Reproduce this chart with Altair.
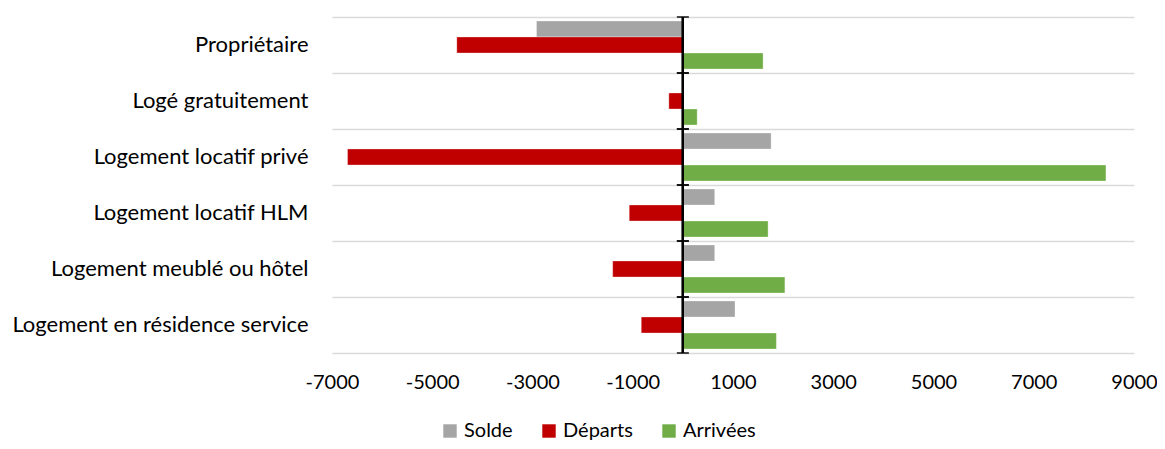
import altair as alt
import pandas as pd

categories = ["Propriétaire", "Logé gratuitement", "Logement locatif privé",
              "Logement locatif HLM", "Logement meublé ou hôtel",
              "Logement en résidence service"]
series = ["Solde", "Départs", "Arrivées"]
solde = [-2920, 5, 1760, 635, 635, 1040]
departs = [-4510, -280, -6690, -1070, -1400, -830]
arrivees = [1600, 285, 8440, 1700, 2035, 1865]
colors = ["#a5a5a5", "#c00000", "#70ad47"]
x_ticks = [-7000, -5000, -3000, -1000, 1000, 3000, 5000, 7000, 9000]

rows = []
for i, c in enumerate(categories):
    for s, vals in zip(series, [solde, departs, arrivees]):
        rows.append({"cat": c, "serie": s, "val": vals[i]})
df = pd.DataFrame(rows)
cat_df = pd.DataFrame({"cat": categories})

FONT = "Lato"

y_scale = alt.Scale(domain=categories, paddingInner=0, paddingOuter=0)

bars = alt.Chart(df).mark_bar(stroke="white", strokeWidth=0.5, strokeOpacity=0.6).encode(
    y=alt.Y("cat:N", scale=y_scale, sort=categories,
            axis=alt.Axis(title=None, grid=True, bandPosition=0, gridColor="#d9d9d9",
                          gridWidth=1.5, ticks=False, domain=False, labelFontSize=22,
                          labelFont=FONT, labelColor="#000000", labelPadding=24,
                          labelLimit=400)),
    yOffset=alt.YOffset("serie:N", sort=series,
                        scale=alt.Scale(domain=series, paddingInner=0, paddingOuter=0.25)),
    x=alt.X("val:Q", scale=alt.Scale(domain=[-7000, 9000], nice=False, zero=False),
            axis=alt.Axis(title=None, values=x_ticks, grid=False, ticks=False,
                          domain=True, domainColor="#d9d9d9", domainWidth=1.5,
                          labelFontSize=20, labelFont=FONT, labelColor="#000000",
                          labelPadding=19, labelExpr="'' + datum.value",
                          labelFlush=False)),
    color=alt.Color("serie:N", sort=series,
                    scale=alt.Scale(domain=series, range=colors),
                    legend=alt.Legend(title=None, orient="none", direction="horizontal",
                                      legendX=108, legendY=404, symbolType="square",
                                      symbolSize=180, symbolStrokeWidth=0,
                                      labelFontSize=20, labelFont=FONT,
                                      labelColor="#000000", columnPadding=26,
                                      symbolOffset=0, labelOffset=4)),
)

zero_line = alt.Chart(cat_df).mark_rule(color="#000000", strokeWidth=2).encode(
    x=alt.datum(0)
)

ticks_top = alt.Chart(cat_df).mark_tick(orient="horizontal", color="#000000",
                                         size=12, thickness=2).encode(
    y=alt.Y("cat:N", scale=y_scale, sort=categories, bandPosition=0),
    x=alt.datum(0),
)
ticks_bot = alt.Chart(cat_df).mark_tick(orient="horizontal", color="#000000",
                                         size=12, thickness=2).encode(
    y=alt.Y("cat:N", scale=y_scale, sort=categories, bandPosition=1),
    x=alt.datum(0),
)

chart = alt.layer(bars, zero_line, ticks_top, ticks_bot).properties(
    width=802, height=336,
    autosize=alt.AutoSizeParams(type="none"),
    padding={"left": 324, "top": 9, "right": 23, "bottom": 88},
).configure(font=FONT).configure_view(stroke=None)

chart.save("out.html", embed_options={"renderer": "svg", "actions": False})
